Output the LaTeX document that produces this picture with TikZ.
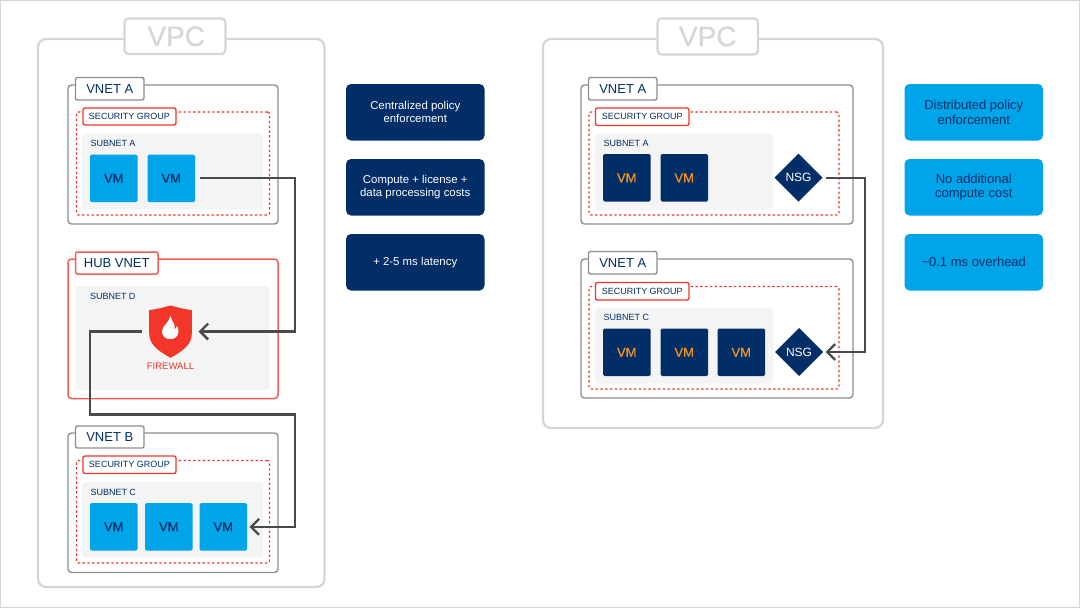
\documentclass[tikz,border=0pt]{standalone}
\usepackage{fontspec}
\setmainfont{Liberation Sans}
\newfontfamily\medfont[FakeBold=0.4]{Liberation Sans}
\usetikzlibrary{arrows.meta,shapes.geometric}
\definecolor{navy}{HTML}{012E67}
\definecolor{sky}{HTML}{00A4E9}
\definecolor{vpcgrey}{HTML}{D6D6D6}
\definecolor{netgrey}{HTML}{8E8E8E}
\definecolor{alert}{HTML}{F2362A}
\definecolor{subnetbg}{HTML}{F4F4F4}
\definecolor{wire}{HTML}{4A4A4A}
\definecolor{vmorange}{HTML}{F7941D}
\newcommand{\fsz}[1]{\fontsize{#1}{#1}\selectfont}
\newcommand{\bx}[7]{%
  \pgfmathsetmacro\bxw{#5-#3}\pgfmathsetmacro\bxh{#6-#4}%
  \pgfmathsetmacro\bxcx{(#3+#5)/2}\pgfmathsetmacro\bxcy{(#4+#6)/2}%
  \node[#2,minimum width=\bxw pt,minimum height=\bxh pt] (#1) at (\bxcx,\bxcy) {#7};}
\tikzset{
  base/.style={rectangle,inner sep=0pt,outer sep=0pt},
  vpcbox/.style={base,draw=vpcgrey,line width=2.3pt,rounded corners=8pt},
  vpclabel/.style={base,draw=vpcgrey,fill=white,line width=2.3pt,rounded corners=4pt,text=vpcgrey,font=\medfont\fsz{28}},
  netbox/.style={base,draw=netgrey,line width=1.4pt,rounded corners=3.5pt},
  hubbox/.style={base,draw=alert!80!white,line width=1.5pt,rounded corners=3.5pt},
  netlabel/.style={base,draw=netgrey,fill=white,line width=1.4pt,rounded corners=2pt,text=navy,font=\fsz{13}},
  hublabel/.style={base,draw=alert!80!white,fill=white,line width=1.5pt,rounded corners=2pt,text=navy,font=\fsz{13}},
  sgbox/.style={base,draw=alert,line width=1.2pt,dash pattern=on 2.4pt off 2.4pt,rounded corners=2pt},
  sglabel/.style={base,draw=alert,fill=white,line width=1.4pt,rounded corners=2pt,text=navy,font=\fsz{9}},
  subnet/.style={base,fill=subnetbg,rounded corners=3pt},
  subnettext/.style={base,anchor=west,text=navy,font=\fsz{9}},
  vmblue/.style={base,fill=sky,rounded corners=1.5pt,text=navy,font=\medfont\fsz{13},minimum width=47.5pt,minimum height=47.5pt},
  vmnavy/.style={base,fill=navy,rounded corners=1.5pt,text=vmorange,font=\medfont\fsz{13},minimum width=47.5pt,minimum height=47.5pt},
  nsg/.style={diamond,aspect=1,inner sep=0pt,outer sep=0pt,fill=navy,text=white,font=\fsz{12},minimum width=48pt,minimum height=48pt},
  panelnavy/.style={base,fill=navy,rounded corners=5pt,text=white,align=center,font=\fontsize{11.4}{13}\selectfont},
  panelsky/.style={base,fill=sky,rounded corners=5pt,text=navy,align=center,font=\fontsize{13}{14.7}\selectfont},
  conn/.style={draw=wire,line width=2.3pt,line join=miter},
  connarrow/.style={conn,-{Straight Barb[length=8pt,width=16pt,line width=2.3pt]}},
  fwnode/.style={base,minimum width=43pt,minimum height=52pt},
  fwtext/.style={base,text=alert,font=\fsz{9.5}},
}
\begin{document}
\begin{tikzpicture}[x=1pt,y=-1pt]
\useasboundingbox (0,0) rectangle (1080,608);
\draw[vpcgrey,line width=1pt] (0.5,0.5) rectangle (1079.5,607.5);
% ---------- left ----------
\bx{vpcL}{vpcbox}{38}{39}{324.5}{587}{}
\bx{vpcLl}{vpclabel}{124.5}{18.5}{225.5}{54}{\raisebox{-1.5pt}{\hspace*{2.5pt}VPC}}
\bx{netA}{netbox}{68}{85}{278}{224}{}
\bx{netAl}{netlabel}{75.5}{77.5}{144}{100}{VNET A}
\bx{sgA}{sgbox}{76.5}{112}{269.5}{215}{}
\bx{subA}{subnet}{82}{133.5}{263}{209}{}
\bx{sgAl}{sglabel}{83}{108}{176}{125}{SECURITY GROUP}
\node[subnettext] (subAt) at (90.5,143.5) {SUBNET A};
\bx{vmA1}{vmblue}{90}{154.5}{137.5}{202}{VM}
\bx{vmA2}{vmblue}{147.5}{154.5}{195}{202}{VM}
\bx{hub}{hubbox}{68}{259}{278}{398.5}{}
\bx{hubl}{hublabel}{75.5}{252}{158}{274}{HUB VNET}
\bx{subD}{subnet}{76}{286}{269.5}{390}{}
\node[subnettext] (subDt) at (90,296.5) {SUBNET D};
\bx{fw}{fwnode}{149}{305.5}{192}{357.5}{}
\fill[alert] (170.5,305.5) .. controls (163,307.5) and (156,309.5) .. (149.2,310)
  -- (149.2,334) .. controls (149.2,345) and (160,352) .. (170.5,357.8)
  .. controls (181,352) and (192,345) .. (191.8,334) -- (191.8,310)
  .. controls (185,309.5) and (178,307.5) .. (170.5,305.5) -- cycle;
\fill[white] (170.5,316) .. controls (170.5,319.5) and (173.5,321) .. (174.3,324.5)
  .. controls (174.8,326.5) and (174.8,328) .. (174.6,329.5)
  .. controls (176,328.5) and (176.8,327) .. (176.8,325.5)
  .. controls (178.3,328) and (178.6,330.5) .. (178.4,332.5)
  .. controls (177.8,336.5) and (174.5,339.2) .. (170.2,339.2)
  .. controls (165.5,339.2) and (162,336) .. (162,331.5)
  .. controls (162,325.5) and (169,323) .. (170.5,316) -- cycle;
\node[fwtext] (fwt) at (170.5,366.5) {FIREWALL};
\bx{netB}{netbox}{68}{433}{278}{572.5}{}
\bx{netBl}{netlabel}{75.5}{426}{144}{448}{VNET B}
\bx{sgB}{sgbox}{76.5}{460.5}{269.5}{563}{}
\bx{subC}{subnet}{82}{482}{263}{557.5}{}
\bx{sgBl}{sglabel}{83}{456}{176}{473.5}{SECURITY GROUP}
\node[subnettext] (subCt) at (90.5,492) {SUBNET C};
\bx{vmB1}{vmblue}{90}{503}{137.5}{550.5}{VM}
\bx{vmB2}{vmblue}{145}{503}{192.5}{550.5}{VM}
\bx{vmB3}{vmblue}{199.5}{503}{247}{550.5}{VM}
% ---------- left panels ----------
\bx{pL1}{panelnavy}{346}{84}{484.5}{140.5}{Centralized policy\\enforcement}
\bx{pL2}{panelnavy}{346}{159}{484.5}{215.5}{Compute + license +\\data processing costs}
\bx{pL3}{panelnavy}{346}{234}{484.5}{290.5}{\raisebox{1.5pt}{+ 2-5 ms latency}}
% ---------- right ----------
\bx{vpcR}{vpcbox}{543}{39}{883}{428}{}
\bx{vpcRl}{vpclabel}{657.5}{18.5}{758}{54.5}{\raisebox{-1.5pt}{VPC}}
\bx{rnA}{netbox}{581}{85}{853}{224}{}
\bx{rnAl}{netlabel}{588.5}{77.5}{657}{100}{VNET A}
\bx{rsA}{sgbox}{589}{112}{839}{215}{}
\bx{rsubA}{subnet}{595}{133.5}{773}{209.5}{}
\bx{rsAl}{sglabel}{595.5}{108}{689}{125.5}{SECURITY GROUP}
\node[subnettext] (rsubAt) at (603.5,143.5) {SUBNET A};
\bx{rvA1}{vmnavy}{603}{154}{650.5}{201.5}{VM}
\bx{rvA2}{vmnavy}{660.5}{154}{708}{201.5}{VM}
\node[nsg] (nsgA) at (798.5,177.7) {NSG};
\bx{rnB}{netbox}{581}{259}{853}{398}{}
\bx{rnBl}{netlabel}{588.5}{251.5}{657}{274}{VNET A}
\bx{rsB}{sgbox}{589}{286.5}{839}{389}{}
\bx{rsubB}{subnet}{595}{308}{773}{383.5}{}
\bx{rsBl}{sglabel}{595.5}{282.5}{689}{300}{SECURITY GROUP}
\node[subnettext] (rsubBt) at (603.5,317.5) {SUBNET C};
\bx{rvB1}{vmnavy}{603}{328.5}{650.5}{376}{VM}
\bx{rvB2}{vmnavy}{660.5}{328.5}{708}{376}{VM}
\bx{rvB3}{vmnavy}{717.5}{328.5}{765}{376}{VM}
\node[nsg] (nsgB) at (799,352) {NSG};
% ---------- right panels ----------
\bx{pR1}{panelsky}{904.5}{84}{1043}{140.5}{Distributed policy\\enforcement}
\bx{pR2}{panelsky}{904.5}{159}{1043}{215.5}{No additional\\compute cost}
\bx{pR3}{panelsky}{904.5}{234}{1043}{290.5}{\raisebox{0.8pt}{\textasciitilde0.1 ms overhead}}
% ---------- connectors ----------
\coordinate (railA) at (295,250);
\coordinate (railB) at (90,414.5);
\coordinate (railC) at (295,414.5);
\coordinate (railD) at (865,260);
\path[connarrow,shorten <=4.5pt,shorten >=6.5pt] (vmA2.east) -| (railA) |- (fw.east);
\path[connarrow,shorten <=7.5pt,shorten >=2.5pt] (fw.west) -| (railB) -- (railC) |- (vmB3.east);
\path[connarrow,shorten <=3.5pt,shorten >=2.5pt] (nsgA.east) -| (railD) |- (nsgB.east);
\end{tikzpicture}
\end{document}
